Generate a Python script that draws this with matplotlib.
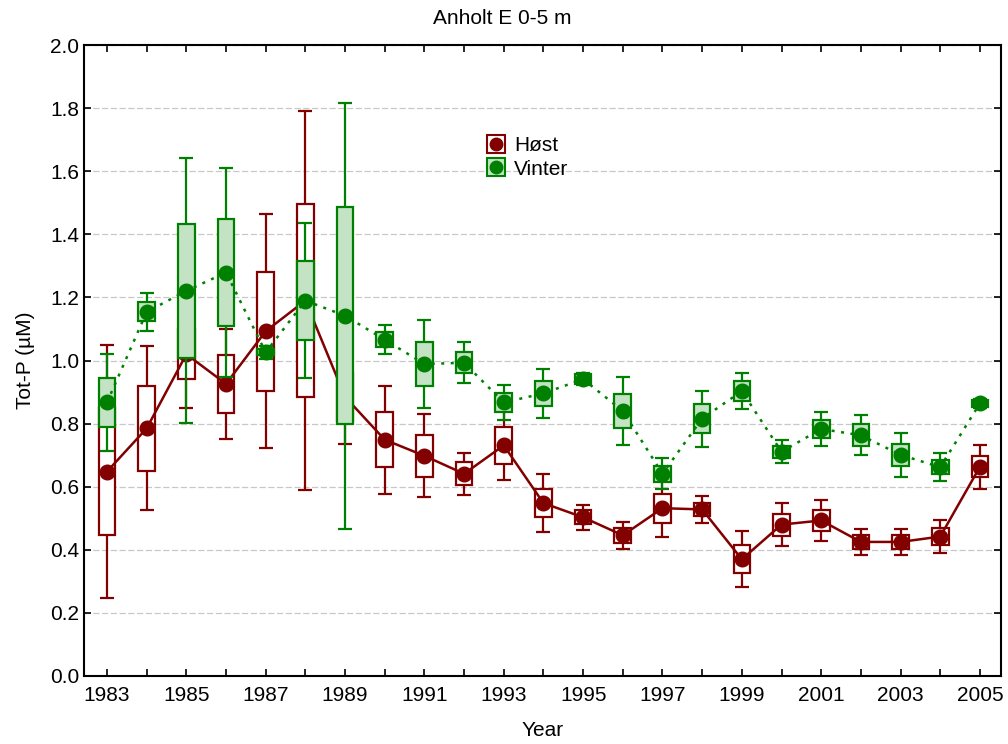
import matplotlib
matplotlib.use('Agg')
import matplotlib.pyplot as plt
from matplotlib.lines import Line2D
from matplotlib.legend_handler import HandlerTuple
import numpy as np

plt.rcParams['font.family'] = ['Liberation Sans', 'DejaVu Sans']

years = np.arange(1983, 2006)

# Høst: mean, box half-height, whisker half-height
host_mean = [0.648, 0.785, 1.02, 0.926, 1.093, 1.19, 0.885, 0.749, 0.698, 0.641, 0.731, 0.548,
             0.503, 0.446, 0.532, 0.528, 0.370, 0.480, 0.493, 0.425, 0.425, 0.442, 0.663]
host_box = [0.20, 0.134, 0.08, 0.091, 0.188, 0.307, 0.077, 0.088, 0.067, 0.036, 0.058, 0.045,
            0.022, 0.023, 0.046, 0.021, 0.045, 0.035, 0.033, 0.022, 0.021, 0.026, 0.033]
host_whisk = [0.40, 0.26, 0.17, 0.175, 0.371, 0.60, 0.15, 0.171, 0.131, 0.067, 0.111, 0.092,
              0.04, 0.043, 0.09, 0.043, 0.089, 0.068, 0.065, 0.041, 0.042, 0.053, 0.07]

# Vinter
vinter_mean = [0.867, 1.154, 1.221, 1.279, 1.026, 1.19, 1.142, 1.066, 0.989, 0.993, 0.867, 0.896,
               0.941, 0.840, 0.641, 0.816, 0.903, 0.711, 0.783, 0.763, 0.701, 0.662, 0.864]
vinter_box = [0.077, 0.03, 0.213, 0.17, 0.01, 0.125, 0.344, 0.024, 0.07, 0.033, 0.03, 0.039,
              0.015, 0.054, 0.025, 0.046, 0.031, 0.019, 0.028, 0.035, 0.036, 0.022, 0.011]
vinter_whisk = [0.155, 0.061, 0.42, 0.33, 0.02, 0.245, 0.675, 0.046, 0.14, 0.065, 0.055, 0.077,
                0.02, 0.107, 0.049, 0.089, 0.058, 0.036, 0.055, 0.064, 0.07, 0.044, 0.015]

red = '#820000'
green = '#008000'
lightgreen = '#c4e3c4'

fig = plt.figure(figsize=(10.08, 7.44), dpi=100)
ax = fig.add_axes([0.0833, 0.0914, 0.9097, 0.848])

def draw_series(mean, box, whisk, col, face, ls, z):
    mean = np.array(mean)
    box = np.array(box)
    ax.errorbar(years, mean, yerr=whisk, fmt='none', ecolor=col, elinewidth=1.6,
                capsize=5, capthick=1.6, zorder=z)
    ax.bar(years, 2 * box, bottom=mean - box, width=0.42, color=face, edgecolor=col,
           linewidth=1.6, zorder=z + 1)
    ax.plot(years, mean, color=col, ls=ls, lw=1.8, marker='o', ms=10.5,
            markerfacecolor=col, markeredgecolor=col, zorder=z + 2)

draw_series(host_mean, host_box, host_whisk, red, 'white', '-', 3)
draw_series(vinter_mean, vinter_box, vinter_whisk, green, lightgreen, (0, (1.2, 2.6)), 6)

ax.set_xlim(1982.42, 2005.53)
ax.set_ylim(0, 2.0)
ax.set_xticks(np.arange(1983, 2006, 2))
ax.set_xticks(years, minor=True)
ax.set_yticks(np.arange(0, 2.01, 0.2))
ax.set_yticklabels(['%.1f' % v for v in np.arange(0, 2.01, 0.2)])
ax.tick_params(which='both', direction='in', top=True, right=True, length=5, width=1.2,
               labelsize=15)
ax.tick_params(axis='x', pad=7)
ax.grid(axis='y', color='#c8c8c8', ls=(0, (5, 2)), lw=0.9)
ax.set_axisbelow(True)
for s in ax.spines.values():
    s.set_linewidth(1.5)

fig.text(0.498, 0.975, 'Anholt E 0-5 m', fontsize=15, ha='center', va='center')
ax.set_xlabel('Year', fontsize=15, labelpad=12)
ax.set_ylabel('Tot-P (µM)', fontsize=15, labelpad=11)

h1 = (Line2D([], [], ls='none', marker='s', ms=13, mfc='white', mec=red, mew=1.5),
      Line2D([], [], ls='none', marker='o', ms=9, mfc=red, mec=red))
h2 = (Line2D([], [], ls='none', marker='s', ms=13, mfc=lightgreen, mec=green, mew=1.5),
      Line2D([], [], ls='none', marker='o', ms=9, mfc=green, mec=green))
ax.legend([h1, h2], ['Høst', 'Vinter'], handler_map={tuple: HandlerTuple(ndivide=1)},
          loc='upper left', bbox_to_anchor=(0.42, 0.885), frameon=False, fontsize=15,
          handlelength=0.8, handletextpad=0.45, labelspacing=0.2)

fig.savefig('out.png', dpi=100)
